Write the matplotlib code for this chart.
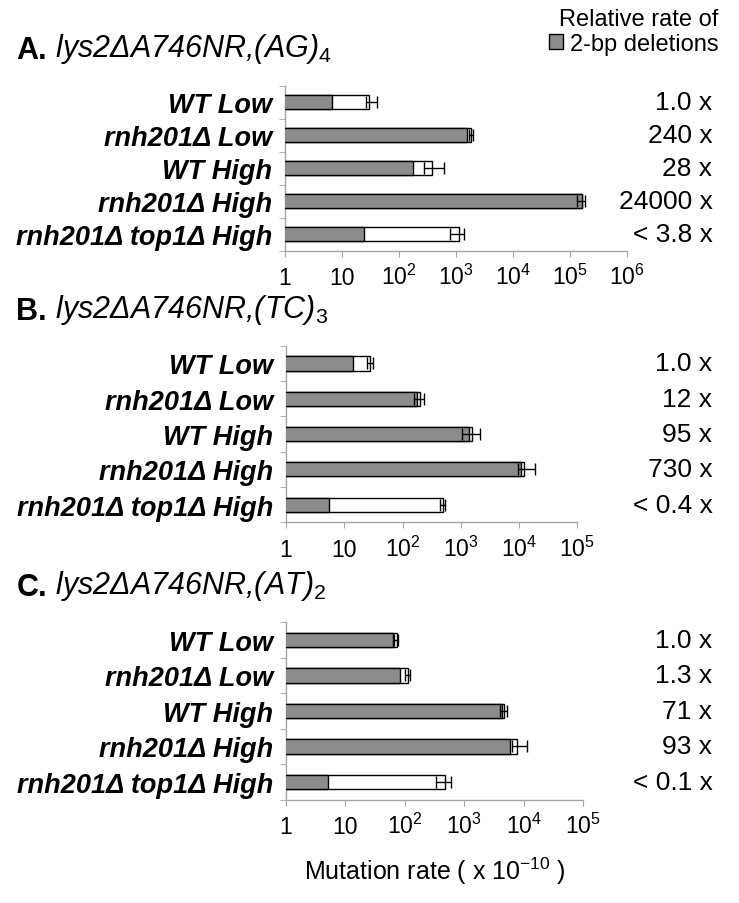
import numpy as np
import matplotlib
matplotlib.use('Agg')
import matplotlib.pyplot as plt
from matplotlib import transforms
from matplotlib.patches import Patch

plt.rcParams['font.family'] = ['Liberation Sans', 'DejaVu Sans']
plt.rcParams['mathtext.fontset'] = 'custom'
plt.rcParams['mathtext.rm'] = 'Liberation Sans'
plt.rcParams['mathtext.it'] = 'Liberation Sans:italic'
plt.rcParams['mathtext.bf'] = 'Liberation Sans:bold'
plt.rcParams['axes.unicode_minus'] = False

strains = ['WT Low', 'rnh201Δ Low', 'WT High', 'rnh201Δ High', 'rnh201Δ top1Δ High']

# panel A: lys2ΔA746NR,(AG)4
gray_a = [6.6, 1540, 178, 160000, 24.7]
total_a = [30, 1870, 375, 160000, 1150]
lo_a = [26, 1710, 277, 131000, 785]
hi_a = [41, 2010, 617, 183000, 1400]
rel_a = ['1.0 x', '240 x', '28 x', '24000 x', '< 3.8 x']

# panel B: lys2ΔA746NR,(TC)3
gray_b = [14.3, 179, 1393, 10600, 5.5]
total_b = [27.9, 199, 1570, 12400, 499]
lo_b = [24.8, 157, 1070, 9550, 437]
hi_b = [31.4, 233, 2150, 18900, 540]
rel_b = ['1.0 x', '12 x', '95 x', '730 x', '< 0.4 x']

# panel C: lys2ΔA746NR,(AT)2
gray_c = [62, 81.5, 4320, 5820, 5.1]
total_c = [74, 111, 4670, 7540, 476]
lo_c = [66, 101, 3950, 6310, 328]
hi_c = [77, 121, 5120, 11100, 586]
rel_c = ['1.0 x', '1.3 x', '71 x', '93 x', '< 0.1 x']

GRAY = '#8c8c8c'
AXC = '#a6a6a6'

fig = plt.figure(figsize=(7.39, 9.04), dpi=100)


def tick_text(e):
    if e == 0:
        return '1'
    if e == 1:
        return '10'
    return r'$\mathregular{10^{%d}}$' % e


def panel(rect, gray, total, lo, hi, rel, maxexp, letter, repeat, sub):
    ax = fig.add_axes(rect)
    pos = np.arange(len(strains))
    total = np.array(total, dtype=float)
    err = [total - np.array(lo), np.array(hi) - total]
    ax.barh(pos, total, height=0.4, color='white', edgecolor='black', lw=1, zorder=2)
    ax.barh(pos, gray, height=0.4, color=GRAY, edgecolor='black', lw=1, zorder=3)
    ax.errorbar(total, pos, xerr=err, fmt='none', ecolor='black', elinewidth=1,
                capsize=4, capthick=1, zorder=4)
    ax.set_xscale('log')
    ax.set_xlim(1, 10 ** maxexp)
    ax.set_ylim(len(strains) - 0.5, -0.5)
    ax.xaxis.set_minor_locator(matplotlib.ticker.NullLocator())
    ex = list(range(maxexp + 1))
    ax.set_xticks([10 ** e for e in ex], [tick_text(e) for e in ex])
    for lab in ax.get_xticklabels():
        lab.set_va('baseline')
    ax.tick_params(axis='x', length=4, color=AXC, pad=20, labelsize=16.5)
    ax.set_yticks(pos, strains)
    ax.set_yticks(np.arange(len(strains) + 1) - 0.5, minor=True)
    ax.tick_params(axis='y', which='major', length=0, pad=9, labelsize=19.5)
    ax.tick_params(axis='y', which='minor', length=4, color=AXC)
    for lab in ax.get_yticklabels():
        lab.set_fontweight('bold')
        lab.set_fontstyle('italic')
    for s in ['top', 'right']:
        ax.spines[s].set_visible(False)
    for s in ['left', 'bottom']:
        ax.spines[s].set_color(AXC)
        ax.spines[s].set_linewidth(1)
    tr = transforms.blended_transform_factory(fig.transFigure, ax.transData)
    for p, r in zip(pos, rel):
        ax.text(0.964, p, r, transform=tr, ha='right', va='center', fontsize=19, clip_on=False)
    # panel title
    top = rect[1] + rect[3]
    t1 = fig.text(0.022, top + 0.039, letter + '.', fontsize=22, fontweight='bold', va='center')
    ax.annotate(' lys2ΔA746NR,(' + repeat + ')$_\\mathit{' + sub + '}$', xy=(1, 0),
                xycoords=t1, va='bottom', fontsize=22, fontstyle='italic',
                annotation_clip=False)
    return ax


W, H = 739, 904
axA = panel([285 / W, 1 - 251.5 / H, 342 / W, 165 / H], gray_a, total_a, lo_a, hi_a,
            rel_a, 6, 'A', 'AG', '4')
axB = panel([286 / W, 1 - 523.3 / H, 291.3 / W, 176.5 / H], gray_b, total_b, lo_b, hi_b,
            rel_b, 5, 'B', 'TC', '3')
axC = panel([286 / W, 1 - 800.7 / H, 297.3 / W, 177.5 / H], gray_c, total_c, lo_c, hi_c,
            rel_c, 5, 'C', 'AT', '2')
axC.set_xlabel(r'Mutation rate ( x 10$^{\mathregular{-10}}$ )', fontsize=18, labelpad=12)

fig.legend(handles=[Patch(facecolor=GRAY, edgecolor='black', lw=1)],
           labels=['2-bp deletions'], title='Relative rate of', alignment='right',
           loc='upper right', bbox_to_anchor=(0.985, 1.0), frameon=False, fontsize=17,
           title_fontsize=17, handlelength=0.6, handleheight=0.6, handletextpad=0.3,
           borderpad=0.2, labelspacing=0.1, borderaxespad=0.2)

fig.savefig('out.png', dpi=100)
